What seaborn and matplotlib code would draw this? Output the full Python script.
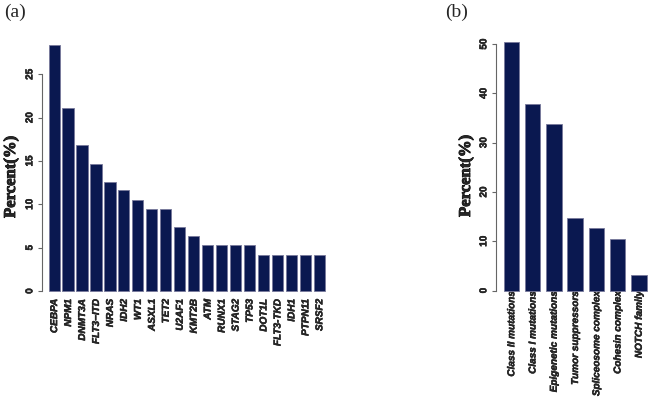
import matplotlib
matplotlib.use("Agg")
import matplotlib.pyplot as plt
from matplotlib.font_manager import FontProperties
import matplotlib.patheffects as pe
import seaborn as sns
import pandas as pd

sns.set_style("white")

genes = ["CEBPA", "NPM1", "DNMT3A", "FLT3\u2212ITD", "NRAS", "IDH2", "WT1", "ASXL1", "TET2",
         "U2AF1", "KMT2B", "ATM", "RUNX1", "STAG2", "TP53", "DOT1L", "FLT3-TKD", "IDH1",
         "PTPN11", "SRSF2"]
gene_pct = [28.4, 21.1, 16.8, 14.7, 12.6, 11.6, 10.5, 9.5, 9.5, 7.4, 6.3,
            5.3, 5.3, 5.3, 5.3, 4.2, 4.2, 4.2, 4.2, 4.2]
gene_ticks = [0, 5, 10, 15, 20, 25]

groups = ["Class II mutations", "Class I mutations", "Epigenetic mutations",
          "Tumor suppressors", "Spliceosome complex", "Cohesin complex", "NOTCH family"]
group_pct = [50.5, 37.9, 33.7, 14.7, 12.6, 10.5, 3.2]
group_ticks = [0, 10, 20, 30, 40, 50]

BAR = "#0a1850"
EDGE = "#77789a"
AXC = "#666666"
W, H = 650, 406

fig = plt.figure(figsize=(6.5, 4.06), dpi=100)

FP_Y = FontProperties(family="Liberation Sans", weight="bold", size=7.2)
FP_X = FontProperties(family="Liberation Sans", weight="bold", style="italic", size=7.2)
FP_LAB = FontProperties(family="Liberation Serif", weight="bold", size=12)
FP_PANEL = FontProperties(family="Liberation Serif", weight="normal", size=14)
THICK = [pe.withStroke(linewidth=0.3, foreground="black")]
THICK_LAB = [pe.withStroke(linewidth=0.6, foreground="black")]

def px_axes(left, top, width, height):
    return fig.add_axes([left / W, (H - top - height) / H, width / W, height / H])

def style(ax, ticks, ylim, xlim, pad_x, names):
    ax.set_xlim(*xlim)
    ax.set_ylim(*ylim)
    for s in ["top", "right", "bottom"]:
        ax.spines[s].set_visible(False)
    ax.spines["left"].set_bounds(ticks[0], ticks[-1])
    ax.spines["left"].set_color(AXC)
    ax.spines["left"].set_linewidth(0.8)
    ax.set_yticks(ticks)
    ax.set_yticklabels([str(t) for t in ticks], rotation=90, va="center",
                       fontproperties=FP_Y, path_effects=THICK)
    ax.set_xticks(range(len(names)))
    ax.set_xticklabels(names, rotation=90, ha="center", va="top",
                       fontproperties=FP_X, path_effects=THICK)
    ax.tick_params(axis="y", left=True, length=3, width=0.8, color=AXC, pad=2.5)
    ax.tick_params(axis="x", bottom=False, length=0, pad=pad_x)
    ax.set_xlabel("")
    ax.set_ylabel("")
    ax.grid(False)

# Panel (a)
axa = px_axes(42, 36.2, 289.9, 265.7)
dfa = pd.DataFrame({"gene": genes, "pct": gene_pct})
sns.barplot(data=dfa, x="gene", y="pct", color=BAR, saturation=1, width=0.8,
            edgecolor=EDGE, linewidth=0.6, ax=axa)
style(axa, gene_ticks, (-1.14, 29.5), (-0.866, 19.9), -1.5, genes)

# Panel (b)
axb = px_axes(496, 32.7, 153.4, 268.8)
dfb = pd.DataFrame({"group": groups, "pct": group_pct})
sns.barplot(data=dfb, x="group", y="pct", color=BAR, saturation=1, width=0.73,
            edgecolor=EDGE, linewidth=0.6, ax=axb)
style(axb, group_ticks, (-2.02, 52.5), (-0.718, 6.5), -7, groups)

# Y labels
fig.text(11 / W, 1 - 178 / H, "Percent(%)", rotation=90, ha="center", va="center",
         fontproperties=FP_LAB, path_effects=THICK_LAB)
fig.text(466 / W, 1 - 177 / H, "Percent(%)", rotation=90, ha="center", va="center",
         fontproperties=FP_LAB, path_effects=THICK_LAB)

# Panel letters
fig.text(15 / W, 1 - 12 / H, "(a)", ha="center", va="center", fontproperties=FP_PANEL)
fig.text(457 / W, 1 - 12 / H, "(b)", ha="center", va="center", fontproperties=FP_PANEL)

fig.savefig("out.png", dpi=100, facecolor="white")
